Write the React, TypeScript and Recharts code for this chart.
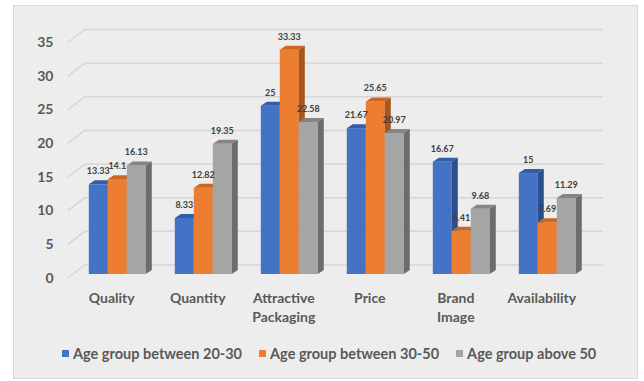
import React from 'react';
import { BarChart, Bar, XAxis, YAxis, CartesianGrid, LabelList, Legend } from 'recharts';

const categories = ['Quality', 'Quantity', 'Attractive Packaging', 'Price', 'Brand Image', 'Availability'];
const age2030 = [13.33, 8.33, 25, 21.67, 16.67, 15];
const age3050 = [14.1, 12.82, 33.33, 25.65, 6.41, 7.69];
const age50 = [16.13, 19.35, 22.58, 20.97, 9.68, 11.29];
const yTicks = [0, 5, 10, 15, 20, 25, 30, 35];
const seriesNames = ['Age group between 20-30', 'Age group between 30-50', 'Age group above 50'];

const data = categories.map((c, i) => ({ name: c, a: age2030[i], b: age3050[i], c: age50[i] }));

const FONT = 'Lato, "Open Sans", sans-serif';
const TEXT = '#595959';
const DX = 6;
const DY = 4;

const palette = [
  { front: '#4472C4', top: '#345DA8', side: '#2C4E8C' },
  { front: '#ED7D31', top: '#CC6623', side: '#A9561D' },
  { front: '#A5A5A5', top: '#858585', side: '#6C6C6C' },
];

const make3D = (p: typeof palette[number]) => (props: any) => {
  const { x, y, width, height } = props;
  if (height == null || width == null) return <g />;
  const w = width;
  const h = height;
  return (
    <g>
      <rect x={x} y={y} width={w} height={h} fill={p.front} />
      <polygon points={`${x},${y} ${x + DX},${y - DY} ${x + w + DX},${y - DY} ${x + w},${y}`} fill={p.top} />
      <polygon points={`${x + w},${y} ${x + w + DX},${y - DY} ${x + w + DX},${y + h - DY} ${x + w},${y + h}`} fill={p.side} />
    </g>
  );
};

const renderLabel = (props: any) => {
  const { x, y, width, value } = props;
  return (
    <text x={x + width / 2} y={y - 10} textAnchor="middle" fontSize={9} fontWeight="bold" fill="#404040" fontFamily={FONT}>
      {String(value)}
    </text>
  );
};

const gridLine = (props: any) => {
  const { x1, y1, x2, key } = props;
  return (
    <g key={key}>
      <line x1={x1 - 6} y1={y1 + 4} x2={x1 + 11} y2={y1 - 9} stroke="#D6D6D6" strokeWidth={1.5} />
      <line x1={x1 + 11} y1={y1 - 9} x2={x2 + 13} y2={y1 - 9} stroke="#D6D6D6" strokeWidth={1.5} />
    </g>
  );
};

const XTick = (props: any) => {
  const { x, payload } = props;
  const words = String(payload.value).split(' ');
  return (
    <g>
      {words.map((w, i) => (
        <text key={i} x={x - 5} y={303 + i * 19} textAnchor="middle" fontSize={14} fontWeight="bold" fill={TEXT} fontFamily={FONT}>
          {w}
        </text>
      ))}
    </g>
  );
};

const YTick = (props: any) => {
  const { y, payload } = props;
  return (
    <text x={53.5} y={y + 8.5} textAnchor="end" fontSize={14} fontWeight="bold" fill={TEXT} fontFamily={FONT}>
      {payload.value}
    </text>
  );
};

const LegendContent = () => (
  <div style={{ position: 'absolute', left: 62, top: 345, display: 'flex', alignItems: 'center', fontFamily: FONT, fontSize: 14.5, fontWeight: 'bold', color: TEXT, whiteSpace: 'nowrap' }}>
    {seriesNames.map((n, i) => (
      <div key={n} style={{ display: 'flex', alignItems: 'center', marginRight: 17 }}>
        <div style={{ width: 7, height: 7, background: palette[i].front, marginRight: 4 }} />
        <span>{n}</span>
      </div>
    ))}
  </div>
);

export default function App() {
  return (
    <div style={{ position: 'absolute', left: 0, top: 0, width: 644, height: 381, background: '#fff' }}>
      <div style={{ position: 'absolute', left: 13, top: 5, width: 623, height: 372, background: '#EDEDED', border: '1px solid #D9D9D9' }} />
      <div style={{ position: 'absolute', left: 0, top: 0 }}>
        <BarChart width={644} height={381} data={data} margin={{ top: 38.5, right: 54.2, bottom: 47, left: 33.8 }} barGap={0} barSize={19}>
          <CartesianGrid vertical={false} horizontal={gridLine} />
          <YAxis domain={[0, 35]} ticks={yTicks} width={40} axisLine={false} tickLine={false} tick={<YTick />} interval={0} />
          <XAxis dataKey="name" height={60} axisLine={false} tickLine={false} tick={<XTick />} interval={0} />
          <Legend content={<LegendContent />} wrapperStyle={{ position: 'absolute', left: 0, top: 0, width: 0, height: 0, bottom: 'auto' }} />
          <Bar dataKey="a" name={seriesNames[0]} fill={palette[0].front} shape={make3D(palette[0])} isAnimationActive={false}>
            <LabelList dataKey="a" content={renderLabel} />
          </Bar>
          <Bar dataKey="b" name={seriesNames[1]} fill={palette[1].front} shape={make3D(palette[1])} isAnimationActive={false}>
            <LabelList dataKey="b" content={renderLabel} />
          </Bar>
          <Bar dataKey="c" name={seriesNames[2]} fill={palette[2].front} shape={make3D(palette[2])} isAnimationActive={false}>
            <LabelList dataKey="c" content={renderLabel} />
          </Bar>
        </BarChart>
      </div>
    </div>
  );
}
